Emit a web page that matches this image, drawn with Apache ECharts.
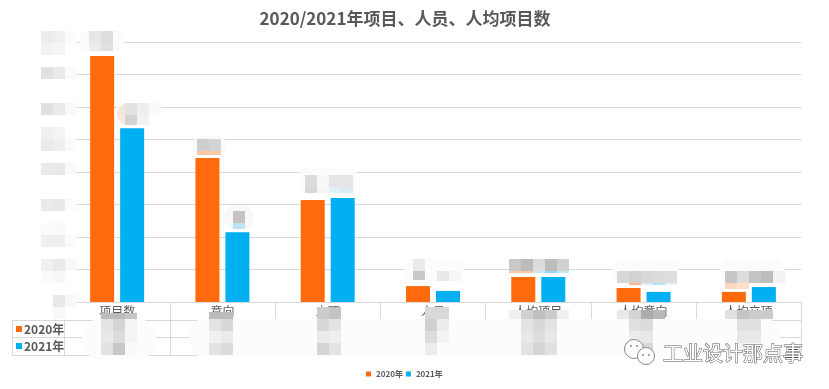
<!DOCTYPE html>
<html>
<head>
<meta charset="utf-8">
<style>html,body{margin:0;padding:0;background:#fff}#c{width:829px;height:389px}</style>
<script src="https://cdn.jsdelivr.net/npm/echarts@6/dist/echarts.min.js"></script>
</head>
<body>
<div id="c"></div>
<script>
const categories = ['项目数','意向','立项','人员','人均项目','人均意向','人均立项'];
const values2020 = [763,443,314,49,77,43,31];
const values2021 = [535,215,320,34,77,31,46];
const seriesNames = ['2020年','2021年'];
const FONT = '"Noto Sans CJK SC","Noto Sans",sans-serif';
const ORANGE = '#FF6A0D', BLUE = '#00B0F0', LINE = '#D9D9D9', TEXT = '#595959';

const g = [];
const rect = (x,y,w,h,fill,r) => g.push({type:'rect',z:50,shape:{x,y,width:w,height:h,r:r||0},style:{fill}});
const hline = (x1,x2,y) => g.push({type:'line',z:50,shape:{x1,y1:y,x2,y2:y},style:{stroke:LINE,lineWidth:1}});
const vline = (x,y1,y2) => g.push({type:'line',z:50,shape:{x1:x,y1,x2:x,y2},style:{stroke:LINE,lineWidth:1}});
const mos = (x,y,h,cols) => cols.forEach((c,i)=>{ if(c) rect(x+i*12,y,12,h,'#'+c); });

// masks around the redacted axis labels
rect(40,28,37,292,'#fff');
rect(80,30,44,26,'#fff');
rect(117,100,37,28,'#fff');
// data-table rules
hline(12,64.5,320.5); hline(12,64.5,337.5); hline(12,64.5,355.5); vline(12.5,320,356); vline(64.5,320,356);
hline(64,801,320.5); hline(64,801,337.5); hline(64,801,355.5); vline(801.5,302,356);
// soft smear over the table
rect(82,318,74,42,'#FCFCFC',20);
rect(190,319,590,38,'#FCFCFC',14);
// row headers
rect(16,326,6,6,ORANGE); rect(16,343,6,6,BLUE);
[[seriesNames[0],329],[seriesNames[1],346]].forEach(([t,y])=>g.push({type:'text',z:51,style:{x:24,y,text:t,fill:TEXT,font:'bold 12px '+FONT,textVerticalAlign:'middle',textBaseline:'middle'}}));

// axis label redaction
mos(41,31,12,['ECECEC','F0F0F0','FBFBFB']); mos(41,43,12,['F2F2F2','F6F6F6']);
mos(41,67,12,['E0E0E0','EAEAEA','FAFAFA']);
mos(41,103,12,['E0E0E0','EAEAEA','FAFAFA']);
mos(41,127,12,['F0F0F0','F4F4F4']); mos(41,139,12,['EAEAEA','EFEFEF','FAFAFA']);
mos(41,163,12,['EAEAEA','E8E8E8','FAFAFA']);
mos(41,199,12,['EBEBEB','E8E8E8','FBFBFB']);
mos(41,223,12,['FBFBFB','FAFAFA']); mos(41,235,12,['F0F0F0','EEEEEE','FAFAFA']);
mos(41,259,12,['F0F0F0','EAEAEA','F8F8F8']); mos(41,271,12,['FAFAFA','F8F8F8']);
mos(53,295,12,['E8E8E8','F8F8F8']); mos(53,307,12,['F8F8F8']);

// data label redaction
rect(80,31,44,20,'#FBFBFB',6);
mos(89,31,12,['E6E6E6','DDDDDD']); mos(89,43,8,['ECECEC','E0E0E0']);
g.push({type:'circle',z:50,shape:{cx:128,cy:114,r:11},style:{fill:'#F8E8DC'}});
rect(125,103,34,12,'#FCFCFC');
mos(125,103,12,['E2E2E2','EEEEEE','FAFAFA']); mos(125,115,10,['D4D4D4','F2F2F2']);
rect(192,136,35,20,'#FAFAFA',10);
mos(197,139,12,['CECECE','D4D4D4']); mos(197,151,4,['FDC9A4','FDC9A4']);
rect(224,205,30,24,'#F8F8F8',12);
mos(233,211,12,['C4C4C4']); mos(233,223,6,['BDE3F3']);
rect(300,168,56,26,'#FBFBFB',6);
mos(305,175,12,['DCDCDC','F8F8F8','E5E5E5','E5E5E5']); mos(305,187,6,['D8D8D8','F6F6F6','E0F0F6','DAECF3']);
rect(405,259,59,22,'#FBFBFB',8);
mos(413,259,12,['EAEAEA']); mos(413,271,9,['C8C8C8']); mos(437,271,10,['E8E8E8','F6F6F6']);
rect(509,269,60,5,'#FBFBFB');
mos(509,259,12,['C8C8C8','BCBCBC','DCDCDC','BCBCBC','D0D0D0']); mos(509,271,2,['FDC9A4','FDC9A4','C8EAF8','8FD8F6','C8EAF8']);
rect(613,259,65,24,'#FBFBFB',10);
mos(617,271,12,['D8D8D8','D2D2D2','D8D8D8','DCDCDC','DEDEDE']); mos(617,283,2,['FFFFFF','FDB98A','D8F0F8','B4E2F2','E4F4FA']);
rect(720,259,64,24,'#FBFBFB',10);
mos(725,271,12,['C6C6C6','DCDCDC','C4C4C4','BCBCBC','F2F2F2']); mos(725,283,6,['FDD8C0','FDE0CC']);

// table cell redaction
const tbl = [
 [101,313,6,['BCBCBC','BCBCBC','C4C4C4']],[101,319,12,['E4E4E4','D4D4D4','F4F4F4']],[101,331,12,['E8E8E8','DCDCDC','F4F4F4']],[101,343,12,['E2E2E2','C8C8C8','FAFAFA']],
 [209,312,7,['BCBCBC','BCBCBC']],[209,319,12,['E4E4E4','D8D8D8']],[209,331,12,['F0F0F0','EAEAEA']],[209,343,12,['E4E4E4','DCDCDC']],
 [317,307,12,['CCCCCC','C4C4C4']],[317,319,12,['D8D8D8','E4E4E4']],[317,331,12,['EAEAEA','EEEEEE']],[317,343,12,['D4D4D4','E4E4E4']],
 [425,307,12,['D8D8D8','D8D8D8']],[425,319,12,['D0D0D0','ECECEC']],[425,331,12,['DCDCDC','F4F4F4']],[425,343,12,['ECECEC','FCFCFC']],
 [509,310,9,['F0F0F0','D0D0D0','C0C0C0','CCCCCC','F0F0F0']],[521,319,12,['E4E4E4','D8D8D8','E4E4E4']],[521,331,12,['E8E8E8','DCDCDC','E8E8E8']],[521,343,12,['E2E2E2','D4D4D4','E0E0E0']],
 [617,310,9,['E8E8E8','D4D4D4','ACACAC','B8B8B8']],[629,319,12,['E0E0E0','DCDCDC']],[629,331,12,['ECECEC','E8E8E8']],[629,343,12,['F0F0F0','D8D8D8']],
 [725,310,9,['E0E0E0','C4C4C4','CCCCCC','CCCCCC']],[737,319,12,['E0E0E0','E0E0E0']],[737,331,12,['E8E8E8','E8E8E8']],[737,343,12,['F4F4F4','F8F8F8']]
];
tbl.forEach(t=>mos(...t));

// watermark
[[634,349,9.5],[646,356,8.5]].forEach(([cx,cy,r])=>g.push({type:'circle',z:52,shape:{cx,cy,r},style:{fill:'#fff',stroke:'#888',lineWidth:1}}));
[[631,346],[637,346],[643,355],[649,355]].forEach(([cx,cy])=>g.push({type:'circle',z:53,shape:{cx,cy,r:1},style:{fill:'#888'}}));
g.push({type:'text',z:53,style:{x:663,y:353,text:'工业设计那点事',fill:'#fff',stroke:'#555',lineWidth:1,font:'20px '+FONT,textVerticalAlign:'middle',textBaseline:'middle'}});

const chart = echarts.init(document.getElementById('c'),null,{renderer:'canvas'});
chart.setOption({
  animation:false,
  backgroundColor:'#fff',
  color:[ORANGE,BLUE],
  title:{text:'2020/2021年项目、人员、人均项目数',left:400,textAlign:'center',top:5,textStyle:{fontFamily:FONT,fontSize:17,fontWeight:'bold',color:TEXT}},
  legend:{left:361,top:365,itemWidth:5,itemHeight:5,itemGap:3,icon:'rect',textStyle:{fontFamily:FONT,fontSize:8,fontWeight:'bold',color:TEXT,padding:0}},
  grid:{left:64.5,right:27.5,top:42,bottom:87,containLabel:false},
  xAxis:{type:'category',data:categories,boundaryGap:true,
    axisLine:{lineStyle:{color:LINE,width:1}},
    axisTick:{show:true,length:54,lineStyle:{color:LINE}},
    axisLabel:{color:TEXT,fontFamily:FONT,fontSize:12,margin:3}},
  yAxis:{type:'value',min:0,max:800,interval:100,axisLabel:{show:false},axisLine:{show:false},axisTick:{show:false},
    splitLine:{lineStyle:{color:LINE,width:1}}},
  series:[
    {name:seriesNames[0],type:'bar',data:values2020,barWidth:24,barGap:'25%',itemStyle:{color:ORANGE}},
    {name:seriesNames[1],type:'bar',data:values2021,barWidth:24,barGap:'25%',itemStyle:{color:BLUE}}
  ],
  graphic:{elements:g}
});
</script>
</body>
</html>
